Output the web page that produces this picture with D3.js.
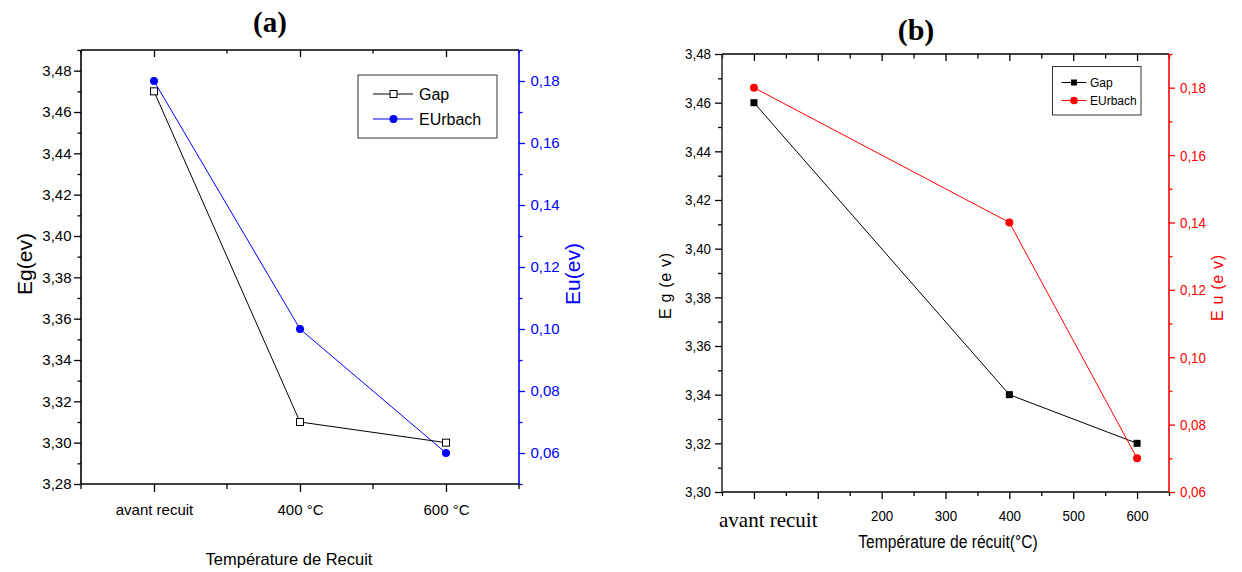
<!DOCTYPE html>
<html><head><meta charset="utf-8">
<script src="https://cdn.jsdelivr.net/npm/d3@7"></script>
<style>html,body{margin:0;padding:0;background:#fff;} svg{display:block;}</style>
</head><body><svg id="c" width="1242" height="572"></svg>
<script>
// ---------- Panel (a) data ----------
const categoriesA = ["avant recuit", "400 °C", "600 °C"];
const gapA = [3.47, 3.31, 3.30];
const urbachA = [0.18, 0.10, 0.06];
const egTicksA = [3.28, 3.30, 3.32, 3.34, 3.36, 3.38, 3.40, 3.42, 3.44, 3.46, 3.48];
const egMinorA = [3.29, 3.31, 3.33, 3.35, 3.37, 3.39, 3.41, 3.43, 3.45, 3.47, 3.49];
const euTicksA = [0.06, 0.08, 0.10, 0.12, 0.14, 0.16, 0.18];
const euMinorA = [0.05, 0.07, 0.09, 0.11, 0.13, 0.15, 0.17, 0.19];
// ---------- Panel (b) data ----------
const tempB = [0, 400, 600];
const gapB = [3.46, 3.34, 3.32];
const urbachB = [0.18, 0.14, 0.07];
const xLabelTicksB = [200, 300, 400, 500, 600];
const xMajorB = [0, 100, 200, 300, 400, 500, 600];
const xMinorB = [-50, 50, 150, 250, 350, 450, 550, 650];
const egTicksB = [3.30, 3.32, 3.34, 3.36, 3.38, 3.40, 3.42, 3.44, 3.46, 3.48];
const egMinorB = [3.31, 3.33, 3.35, 3.37, 3.39, 3.41, 3.43, 3.45, 3.47];
const euTicksB = [0.06, 0.08, 0.10, 0.12, 0.14, 0.16, 0.18];
const euMinorB = [0.07, 0.09, 0.11, 0.13, 0.15, 0.17, 0.19];

const SANS = "'Liberation Sans', Arial, Helvetica, sans-serif";
const SERIF = "'Liberation Serif', 'Times New Roman', serif";
const BLUE = "#0000ff", RED = "#ff0000";
const fmt = d => d3.format(".2f")(d).replace(".", ",");

const svg = d3.select("#c");
svg.append("rect").attr("width", 1242).attr("height", 572).attr("fill", "#fff");

function styleAxis(g, color, size) {
  g.select(".domain").remove();
  g.attr("font-family", SANS).attr("font-size", size);
  g.selectAll("line").attr("stroke", color).attr("stroke-width", 1.3);
  g.selectAll("text").attr("fill", color);
  return g;
}
function squeeze(sel, k) {
  sel.each(function () {
    const L = this.getComputedTextLength();
    this.setAttribute("textLength", L * k);
    this.setAttribute("lengthAdjust", "spacingAndGlyphs");
  });
}

// =================== PANEL (a) ===================
(function () {
  const L = 81, R = 519, T = 50, B = 484;
  const x = d3.scalePoint().domain(categoriesA).range([L, R]).padding(0.5);
  const y = d3.scaleLinear().domain([3.28, 3.49]).range([B, T]);
  const y2 = d3.scaleLinear().domain([0.05, 0.19]).range([B, T]);
  const g = svg.append("g");
  const step = x.step();
  const minorX = [L, ...categoriesA.map(c => x(c) + step / 2)];

  // left axis
  styleAxis(g.append("g").attr("transform", `translate(${L},0)`)
    .call(d3.axisLeft(y).tickValues(egTicksA).tickSize(7).tickPadding(2.5).tickFormat(fmt)), "#000", 15);
  styleAxis(g.append("g").attr("transform", `translate(${L},0)`)
    .call(d3.axisLeft(y).tickValues(egMinorA).tickSize(3.5).tickFormat("")), "#000", 15);
  // right axis
  styleAxis(g.append("g").attr("transform", `translate(${R},0)`)
    .call(d3.axisRight(y2).tickValues(euTicksA).tickSize(6).tickPadding(5.5).tickFormat(fmt)), BLUE, 15);
  styleAxis(g.append("g").attr("transform", `translate(${R},0)`)
    .call(d3.axisRight(y2).tickValues(euMinorA).tickSize(3.5).tickFormat("")), BLUE, 15);
  // bottom axis
  styleAxis(g.append("g").attr("transform", `translate(0,${B})`)
    .call(d3.axisBottom(x).tickSize(8).tickPadding(12)), "#000", 15);
  g.append("g").selectAll("line").data(minorX).join("line")
    .attr("x1", d => d).attr("x2", d => d).attr("y1", B).attr("y2", B + 5)
    .attr("stroke", "#000").attr("stroke-width", 1.3);
  // top axis (inward)
  styleAxis(g.append("g").attr("transform", `translate(0,${T})`)
    .call(d3.axisTop(x).tickSize(-7).tickFormat("")), "#000", 15);
  g.append("g").selectAll("line").data(minorX).join("line")
    .attr("x1", d => d).attr("x2", d => d).attr("y1", T).attr("y2", T + 3.5)
    .attr("stroke", "#000").attr("stroke-width", 1.3);

  // frame
  g.append("line").attr("x1", L).attr("x2", R).attr("y1", T).attr("y2", T).attr("stroke", "#000").attr("stroke-width", 1.6);
  g.append("line").attr("x1", L).attr("x2", R).attr("y1", B).attr("y2", B).attr("stroke", "#000").attr("stroke-width", 1.6);
  g.append("line").attr("x1", L).attr("x2", L).attr("y1", T).attr("y2", B).attr("stroke", "#000").attr("stroke-width", 1.6);
  g.append("line").attr("x1", R).attr("x2", R).attr("y1", T).attr("y2", B).attr("stroke", BLUE).attr("stroke-width", 1.6);

  // series
  const gapPts = categoriesA.map((c, i) => [x(c), y(gapA[i])]);
  const urbPts = categoriesA.map((c, i) => [x(c), y2(urbachA[i])]);
  g.append("path").attr("d", d3.line()(urbPts)).attr("fill", "none").attr("stroke", BLUE).attr("stroke-width", 1);
  g.append("path").attr("d", d3.line()(gapPts)).attr("fill", "none").attr("stroke", "#000").attr("stroke-width", 1);
  g.selectAll(".ua").data(urbPts).join("circle").attr("cx", d => d[0]).attr("cy", d => d[1]).attr("r", 4).attr("fill", BLUE);
  g.selectAll(".ga").data(gapPts).join("rect").attr("x", d => d[0] - 3.5).attr("y", d => d[1] - 3.5)
    .attr("width", 7).attr("height", 7).attr("fill", "#fff").attr("stroke", "#000").attr("stroke-width", 1);

  // legend
  const lg = g.append("g");
  lg.append("rect").attr("x", 358).attr("y", 75).attr("width", 139).attr("height", 63)
    .attr("fill", "#fff").attr("stroke", "#333").attr("stroke-width", 1);
  lg.append("line").attr("x1", 373).attr("x2", 413).attr("y1", 94).attr("y2", 94).attr("stroke", "#000");
  lg.append("rect").attr("x", 390).attr("y", 90.5).attr("width", 7).attr("height", 7).attr("fill", "#fff").attr("stroke", "#000");
  lg.append("line").attr("x1", 373).attr("x2", 413).attr("y1", 119).attr("y2", 119).attr("stroke", BLUE);
  lg.append("circle").attr("cx", 393.5).attr("cy", 119).attr("r", 4).attr("fill", BLUE);
  lg.append("text").attr("x", 419).attr("y", 94).attr("dy", "0.36em").text("Gap")
    .attr("font-family", SANS).attr("font-size", 16);
  lg.append("text").attr("x", 419).attr("y", 119).attr("dy", "0.36em").text("EUrbach")
    .attr("font-family", SANS).attr("font-size", 16);

  // titles
  g.append("text").attr("x", 270).attr("y", 32).attr("text-anchor", "middle").text("(a)")
    .attr("font-family", SERIF).attr("font-weight", "bold").attr("font-size", 29);
  g.append("text").attr("transform", "translate(31.5,264) rotate(-90)").attr("text-anchor", "middle")
    .text("Eg(ev)").attr("font-family", SANS).attr("font-size", 21);
  g.append("text").attr("transform", "translate(580,274) rotate(-90)").attr("text-anchor", "middle")
    .text("Eu(ev)").attr("font-family", SANS).attr("font-size", 21).attr("fill", BLUE);
  g.append("text").attr("x", 289).attr("y", 565).attr("text-anchor", "middle")
    .text("Température de Recuit").attr("font-family", SANS).attr("font-size", 16.5);
})();

// =================== PANEL (b) ===================
(function () {
  const L = 722, R = 1169, T = 54, B = 492;
  const x = d3.scaleLinear().domain([-50, 650]).range([L, R]);
  const y = d3.scaleLinear().domain([3.30, 3.48]).range([B, T]);
  const y2 = d3.scaleLinear().domain([0.06, 0.19]).range([B, T]);
  const g = svg.append("g");
  const labels = [];

  const la = styleAxis(g.append("g").attr("transform", `translate(${L},0)`)
    .call(d3.axisLeft(y).tickValues(egTicksB).tickSize(7).tickPadding(4).tickFormat(fmt)), "#000", 15.5);
  labels.push(la.selectAll("text"));
  styleAxis(g.append("g").attr("transform", `translate(${L},0)`)
    .call(d3.axisLeft(y).tickValues(egMinorB).tickSize(4).tickFormat("")), "#000", 15);

  const ra = styleAxis(g.append("g").attr("transform", `translate(${R},0)`)
    .call(d3.axisRight(y2).tickValues(euTicksB).tickSize(6).tickPadding(5).tickFormat(fmt)), RED, 15.5);
  labels.push(ra.selectAll("text"));
  styleAxis(g.append("g").attr("transform", `translate(${R},0)`)
    .call(d3.axisRight(y2).tickValues(euMinorB).tickSize(3.5).tickFormat("")), RED, 15);

  styleAxis(g.append("g").attr("transform", `translate(0,${B})`)
    .call(d3.axisBottom(x).tickValues(xMajorB).tickSize(7).tickFormat("")), "#000", 15);
  styleAxis(g.append("g").attr("transform", `translate(0,${B})`)
    .call(d3.axisBottom(x).tickValues(xMinorB).tickSize(4).tickFormat("")), "#000", 15);
  const ba = styleAxis(g.append("g").attr("transform", `translate(0,${B})`)
    .call(d3.axisBottom(x).tickValues(xLabelTicksB).tickSize(0).tickPadding(17.5).tickFormat(d3.format("d"))), "#000", 15.5);
  labels.push(ba.selectAll("text"));

  styleAxis(g.append("g").attr("transform", `translate(0,${T})`)
    .call(d3.axisTop(x).tickValues(xMajorB).tickSize(-7).tickFormat("")), "#000", 15);
  styleAxis(g.append("g").attr("transform", `translate(0,${T})`)
    .call(d3.axisTop(x).tickValues(xMinorB).tickSize(-4.5).tickFormat("")), "#000", 15);

  // frame
  g.append("line").attr("x1", L).attr("x2", R).attr("y1", T).attr("y2", T).attr("stroke", "#000").attr("stroke-width", 1.6);
  g.append("line").attr("x1", L).attr("x2", R).attr("y1", B).attr("y2", B).attr("stroke", "#000").attr("stroke-width", 1.6);
  g.append("line").attr("x1", L).attr("x2", L).attr("y1", T).attr("y2", B).attr("stroke", "#333").attr("stroke-width", 1.6);
  g.append("line").attr("x1", R).attr("x2", R).attr("y1", T).attr("y2", B).attr("stroke", RED).attr("stroke-width", 1.6);

  // series
  const gapPts = tempB.map((t, i) => [x(t), y(gapB[i])]);
  const urbPts = tempB.map((t, i) => [x(t), y2(urbachB[i])]);
  g.append("path").attr("d", d3.line()(gapPts)).attr("fill", "none").attr("stroke", "#000").attr("stroke-width", 1);
  g.append("path").attr("d", d3.line()(urbPts)).attr("fill", "none").attr("stroke", RED).attr("stroke-width", 1);
  g.selectAll(".gb").data(gapPts).join("rect").attr("x", d => d[0] - 3.5).attr("y", d => d[1] - 3.5)
    .attr("width", 7).attr("height", 7).attr("fill", "#000");
  g.selectAll(".ub").data(urbPts).join("circle").attr("cx", d => d[0]).attr("cy", d => d[1]).attr("r", 4).attr("fill", RED);

  // legend
  const lg = g.append("g");
  lg.append("rect").attr("x", 1052.5).attr("y", 66.5).attr("width", 88.5).attr("height", 48.5)
    .attr("fill", "#fff").attr("stroke", "#333").attr("stroke-width", 1);
  lg.append("line").attr("x1", 1061.5).attr("x2", 1086.5).attr("y1", 82.5).attr("y2", 82.5).attr("stroke", "#000");
  lg.append("rect").attr("x", 1071).attr("y", 79.5).attr("width", 6).attr("height", 6).attr("fill", "#000");
  lg.append("line").attr("x1", 1061.5).attr("x2", 1086.5).attr("y1", 100.5).attr("y2", 100.5).attr("stroke", RED);
  lg.append("circle").attr("cx", 1074).attr("cy", 100.5).attr("r", 3.8).attr("fill", RED);
  lg.append("text").attr("x", 1090).attr("y", 82.5).attr("dy", "0.36em").text("Gap")
    .attr("font-family", SANS).attr("font-size", 12);
  lg.append("text").attr("x", 1090).attr("y", 100.5).attr("dy", "0.36em").text("EUrbach")
    .attr("font-family", SANS).attr("font-size", 12);

  // titles
  g.append("text").attr("x", 916).attr("y", 40).attr("text-anchor", "middle").text("(b)")
    .attr("font-family", SERIF).attr("font-weight", "bold").attr("font-size", 30);
  const yt = g.append("text").attr("transform", "translate(671,286) rotate(-90)").attr("text-anchor", "middle")
    .text("E g (e v)").attr("font-family", SANS).attr("font-size", 16);
  const yt2 = g.append("text").attr("transform", "translate(1223,288) rotate(-90)").attr("text-anchor", "middle")
    .text("E u (e v)").attr("font-family", SANS).attr("font-size", 16).attr("fill", RED);
  [yt, yt2].forEach(t => t.attr("textLength", 66).attr("lengthAdjust", "spacing"));
  const xt = g.append("text").attr("x", 948).attr("y", 548).attr("text-anchor", "middle")
    .text("Température de récuit(°C)").attr("font-family", SANS).attr("font-size", 17.5);
  squeeze(xt, 0.89);
  g.append("text").attr("x", 719).attr("y", 527).text("avant recuit")
    .attr("font-family", SERIF).attr("font-size", 21);

  labels.forEach(s => squeeze(s, 0.86));
})();
</script>
</body></html>
